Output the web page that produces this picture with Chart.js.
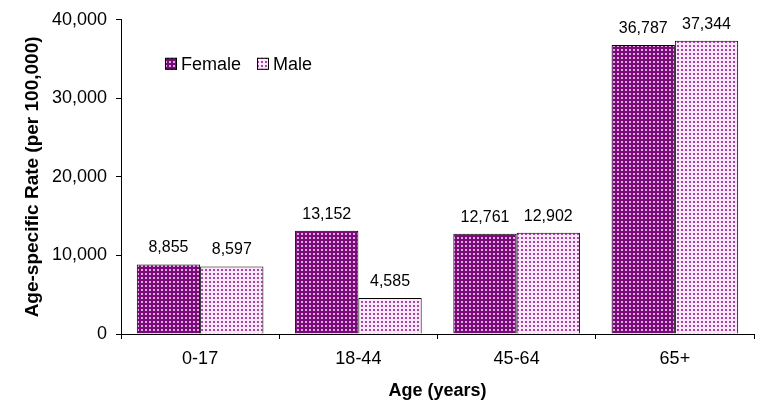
<!DOCTYPE html>
<html>
<head>
<meta charset="utf-8">
<script src="https://cdn.jsdelivr.net/npm/chart.js@4/dist/chart.umd.min.js"></script>
<style>
  html, body { margin: 0; padding: 0; background: #fff; }
  #wrap { width: 758px; height: 404px; }
</style>
</head>
<body>
<div id="wrap"><canvas id="rates"></canvas></div>
<script>
// age groups and rates per 100,000
const ageGroups = ['0-17', '18-44', '45-64', '65+'];
const femaleRates = [8855, 13152, 12761, 36787];
const maleRates = [8597, 4585, 12902, 37344];
const yTicks = [0, 10000, 20000, 30000, 40000];

const FONT = 'Liberation Sans, Arial, sans-serif';

// small dotted tile used as bar fill
function dotPattern(bg, dot) {
  const c = document.createElement('canvas');
  c.width = 4; c.height = 4;
  const g = c.getContext('2d');
  g.fillStyle = bg;
  g.fillRect(0, 0, 4, 4);
  g.fillStyle = dot;
  g.fillRect(1, 1, 2, 2);
  return c.getContext('2d').createPattern(c, 'repeat');
}

const femaleFill = dotPattern('#7a0a7a', '#d9a9d9');
const maleFill = dotPattern('#f8e8f8', '#a843a8');

function fmt(v) {
  return v.toLocaleString('en-US');
}

// value labels above each bar
const barLabels = {
  id: 'barLabels',
  afterDatasetsDraw(chart) {
    const ctx = chart.ctx;
    ctx.save();
    ctx.font = '16px ' + FONT;
    ctx.fillStyle = '#000';
    ctx.textAlign = 'center';
    ctx.textBaseline = 'alphabetic';
    chart.data.datasets.forEach((ds, i) => {
      chart.getDatasetMeta(i).data.forEach((bar, j) => {
        ctx.fillText(fmt(ds.data[j]), bar.x, bar.y - 12);
      });
    });
    ctx.restore();
  }
};

// legend drawn inside the plot area
const innerLegend = {
  id: 'innerLegend',
  afterDraw(chart) {
    const ctx = chart.ctx;
    const area = chart.chartArea;
    let x = area.left + 44;
    const y = area.top + 44;
    ctx.save();
    ctx.font = '18px ' + FONT;
    ctx.textBaseline = 'middle';
    chart.data.datasets.forEach(ds => {
      ctx.fillStyle = ds.backgroundColor;
      ctx.fillRect(x, y - 6, 12, 12);
      ctx.strokeStyle = '#000';
      ctx.lineWidth = 1;
      ctx.strokeRect(x + 0.5, y - 5.5, 11, 11);
      ctx.fillStyle = '#000';
      ctx.fillText(ds.label, x + 16, y + 1);
      x += 92;
    });
    ctx.restore();
  }
};

new Chart(document.getElementById('rates'), {
  type: 'bar',
  data: {
    labels: ageGroups,
    datasets: [
      { label: 'Female', data: femaleRates, backgroundColor: femaleFill, borderColor: '#000', borderWidth: 1 },
      { label: 'Male', data: maleRates, backgroundColor: maleFill, borderColor: '#000', borderWidth: 1 }
    ]
  },
  options: {
    responsive: true,
    maintainAspectRatio: false,
    animation: false,
    layout: { padding: { top: 18, right: 4, left: 0, bottom: 0 } },
    datasets: { bar: { categoryPercentage: 0.8, barPercentage: 1.0 } },
    plugins: {
      legend: { display: false },
      tooltip: { enabled: false }
    },
    scales: {
      x: {
        grid: { display: true, drawOnChartArea: false, offset: true, color: '#000', tickLength: 5 },
        border: { color: '#000' },
        ticks: { color: '#000', font: { family: FONT, size: 18 }, padding: 9 },
        title: { display: true, text: 'Age (years)', color: '#000', font: { family: FONT, size: 18, weight: 'bold' }, padding: { top: 0, bottom: 2 } },
        afterFit(scale) { scale.height = 70; }
      },
      y: {
        min: 0,
        max: 40000,
        afterBuildTicks(scale) { scale.ticks = yTicks.map(v => ({ value: v })); },
        grid: { display: true, drawOnChartArea: false, color: '#000', tickLength: 5 },
        border: { color: '#000' },
        ticks: { color: '#000', font: { family: FONT, size: 18 }, padding: 9, callback: v => fmt(v) },
        title: { display: true, text: 'Age-specific Rate (per 100,000)', color: '#000', font: { family: FONT, size: 19, weight: 'bold' }, padding: { top: 21, bottom: 0 } },
        afterFit(scale) { scale.width = 121; }
      }
    }
  },
  plugins: [barLabels, innerLegend]
});
</script>
</body>
</html>
